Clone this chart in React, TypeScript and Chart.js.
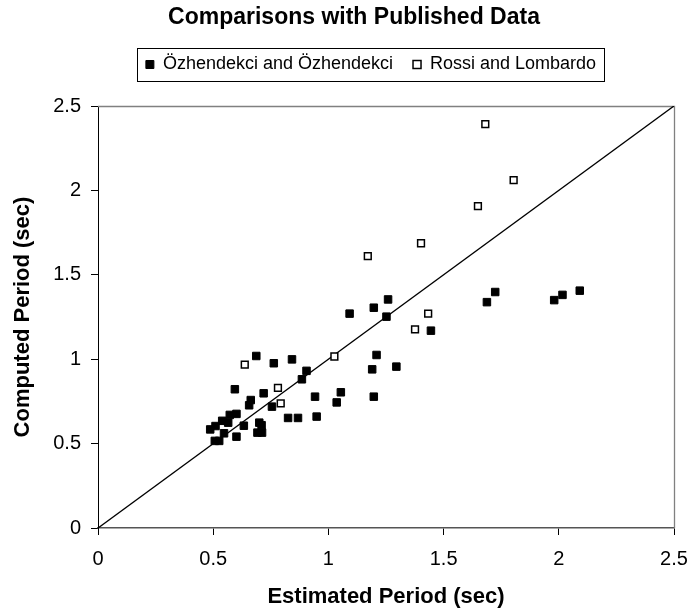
import React, { useEffect, useRef } from "react";
import { Chart, registerables } from "chart.js";

Chart.register(...registerables);

const titleText = "Comparisons with Published Data";
const xTitle = "Estimated Period (sec)";
const yTitle = "Computed Period (sec)";
const seriesNames = ["Özhendekci and Özhendekci", "Rossi and Lombardo"];

const ozX = [0.687, 0.763, 0.842, 0.905, 0.885, 0.594, 0.719, 0.663, 0.656, 0.755, 0.942, 1.036, 0.825, 0.868, 0.949, 0.601, 0.572, 0.565, 0.539, 0.51, 0.487, 0.547, 0.633, 0.7, 0.71, 0.692, 0.712, 0.601, 0.507, 0.526, 1.259, 1.197, 1.092, 1.252, 1.445, 1.688, 1.724, 1.209, 1.19, 1.295, 1.054, 1.197, 1.98, 2.016, 2.091];
const ozY = [1.019, 0.976, 0.999, 0.931, 0.881, 0.822, 0.798, 0.758, 0.727, 0.719, 0.778, 0.744, 0.652, 0.652, 0.66, 0.676, 0.67, 0.624, 0.635, 0.604, 0.584, 0.561, 0.606, 0.624, 0.609, 0.565, 0.565, 0.541, 0.516, 0.516, 1.354, 1.305, 1.27, 1.252, 1.169, 1.338, 1.398, 1.025, 0.94, 0.956, 0.804, 0.778, 1.35, 1.381, 1.406];

const rlX = [0.637, 0.781, 0.793, 1.026, 1.171, 1.402, 1.433, 1.376, 1.649, 1.681, 1.804];
const rlY = [0.968, 0.83, 0.738, 1.016, 1.611, 1.687, 1.27, 1.177, 1.907, 2.392, 2.061];

const lineX = [0, 2.5];
const lineY = [0, 2.5];

const FONT = "'Liberation Sans', Arial, sans-serif";

export default function App() {
  const ref = useRef<HTMLCanvasElement | null>(null);
  useEffect(() => {
    document.body.style.margin = "0";
    const canvas = ref.current;
    if (!canvas) return;
    const frame = {
      id: "frame",
      afterLayout(chart: any) {
        const t = chart.titleBlock;
        if (t) {
          const dx = 354 - (t.left + t.right) / 2;
          t.left += dx;
          t.right += dx;
        }
        const lg = chart.legend;
        if (lg) {
          const dx = 371 - (lg.left + lg.right) / 2;
          lg.left += dx;
          lg.right += dx;
          const pad = lg.options.labels.padding;
          const ih = lg.options.labels.font.size;
          const dy = 64.5 - (lg.top + pad + ih / 2);
          lg.top += dy;
          lg.bottom += dy;
        }
      },
      beforeDatasetsDraw(chart: any) {
        const { ctx, chartArea: a } = chart;
        ctx.save();
        ctx.strokeStyle = "#808080";
        ctx.lineWidth = 1.3;
        ctx.beginPath();
        ctx.moveTo(a.left, a.top + 0.5);
        ctx.lineTo(a.right + 0.5, a.top + 0.5);
        ctx.lineTo(a.right + 0.5, a.bottom);
        ctx.stroke();
        ctx.restore();
      },
      afterDraw(chart: any) {
        const lg = chart.legend;
        if (!lg || !lg.legendHitBoxes || !lg.legendHitBoxes.length) return;
        const hb = lg.legendHitBoxes;
        let minX = Infinity, maxX = -Infinity, minY = Infinity, maxY = -Infinity;
        hb.forEach((b: any) => {
          minX = Math.min(minX, b.left);
          maxX = Math.max(maxX, b.left + b.width);
          minY = Math.min(minY, b.top);
          maxY = Math.max(maxY, b.top + b.height);
        });
        const ctx = chart.ctx;
        ctx.save();
        ctx.strokeStyle = "#000";
        ctx.lineWidth = 1;
        const l = Math.round(minX - 9) + 0.5;
        const tp = Math.round(minY - 7.5) + 0.5;
        const r = Math.round(maxX + 8) + 0.5;
        const b = Math.round(maxY + 7.5) + 0.5;
        ctx.strokeRect(l, tp, r - l, b - tp);
        ctx.restore();
      },
    };
    const tickFmt = (v: any) => String(+v);
    const chart = new Chart(canvas, {
      type: "scatter",
      data: {
        datasets: [
          {
            label: seriesNames[0],
            data: ozX.map((x, i) => ({ x, y: ozY[i] })),
            pointStyle: "rect",
            pointRadius: 5.3,
            backgroundColor: "#000",
            borderColor: "#000",
            borderWidth: 1,
          },
          {
            label: seriesNames[1],
            data: rlX.map((x, i) => ({ x, y: rlY[i] })),
            pointStyle: "rect",
            pointRadius: 4.8,
            backgroundColor: "#fff",
            borderColor: "#000",
            borderWidth: 1.5,
          },
          {
            type: "line",
            label: "diag",
            data: lineX.map((x, i) => ({ x, y: lineY[i] })),
            borderColor: "#000",
            borderWidth: 1.4,
            pointRadius: 0,
            showLine: true,
          } as any,
        ],
      },
      options: {
        animation: false,
        responsive: false,
        maintainAspectRatio: false,
        layout: { padding: { top: 4, right: 15, bottom: 0, left: 8 } },
        plugins: {
          title: {
            display: true,
            text: titleText,
            color: "#000",
            font: { family: FONT, size: 23, weight: "bold" },
            padding: { top: 0, bottom: 26.4 },
          },
          legend: {
            display: true,
            labels: {
              color: "#000",
              font: { family: FONT, size: 18 },
              usePointStyle: true,
              pointStyle: "rect",
              boxWidth: 8,
              boxHeight: 8,
              padding: 20,
              filter: (item: any) => item.datasetIndex < 2,
            },
          },
          tooltip: { enabled: false },
        },
        scales: {
          x: {
            type: "linear",
            min: 0,
            max: 2.5,
            afterFit: (s: any) => { s.height = 85; s.paddingRight = 0; s.paddingLeft = 0; },
            ticks: { stepSize: 0.5, color: "#000", font: { family: FONT, size: 20 }, padding: 12, callback: tickFmt },
            grid: { drawOnChartArea: false, tickLength: 7, color: "#000" },
            border: { color: "#555", width: 1.5 },
            title: { display: true, text: xTitle, color: "#000", font: { family: FONT, size: 22, weight: "bold" }, padding: { top: 0, bottom: 3 } },
          },
          y: {
            type: "linear",
            min: 0,
            max: 2.5,
            afterFit: (s: any) => { s.width = 90; },
            ticks: { stepSize: 0.5, color: "#000", font: { family: FONT, size: 20 }, padding: 10, callback: tickFmt },
            grid: { drawOnChartArea: false, tickLength: 7, color: "#000" },
            border: { color: "#000", width: 1 },
            title: { display: true, text: yTitle, color: "#000", font: { family: FONT, size: 22, weight: "bold" }, padding: { top: 2, bottom: 0 } },
          },
        },
      },
      plugins: [frame],
    } as any);
    return () => chart.destroy();
  }, []);
  return (
    <div style={{ width: 689, height: 613, background: "#fff" }}>
      <canvas ref={ref} width={689} height={613} style={{ display: "block" }} />
    </div>
  );
}
